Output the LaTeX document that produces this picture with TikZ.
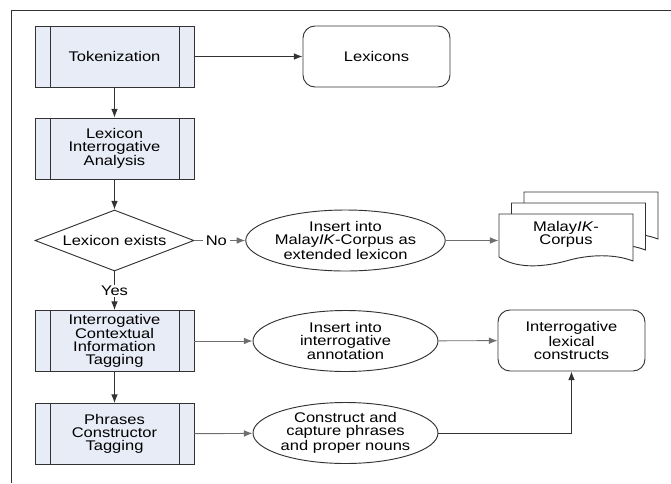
\documentclass[tikz,border=0pt]{standalone}
\usepackage{fontspec}
\setmainfont[FakeStretch=1.18]{Liberation Sans}
\usetikzlibrary{shapes.geometric,arrows.meta}
\definecolor{procfill}{RGB}{232,236,247}
\definecolor{edge}{RGB}{50,50,50}
\definecolor{lgray}{RGB}{110,110,110}
\begin{document}
\begin{tikzpicture}[x=0.75pt,y=-0.75pt,line width=0.7pt,
  every node/.style={font=\fontsize{10.5}{9.75}\selectfont,align=center,inner sep=0pt},
  proc/.style={draw=edge,fill=procfill,minimum width=119.25pt,minimum height=45.75pt,
    path picture={
      \draw[edge,line width=0.7pt] ([xshift=11.25pt]path picture bounding box.north west) -- ([xshift=11.25pt]path picture bounding box.south west);
      \draw[edge,line width=0.7pt] ([xshift=-11.25pt]path picture bounding box.north east) -- ([xshift=-11.25pt]path picture bounding box.south east);}},
  term/.style={draw=edge,rounded corners=9pt,minimum width=110.25pt,minimum height=45.75pt},
  act/.style={draw=edge,ellipse,minimum width=138.75pt,minimum height=45.75pt},
  dec/.style={draw=edge,diamond,aspect=2.6,minimum width=119.25pt,minimum height=45.75pt},
  arr/.style={-{Latex[length=6.5pt,width=5pt]},draw=edge},
  arrg/.style={arr,draw=lgray},
  lbl/.style={fill=white,inner xsep=2pt,inner ysep=1pt}]
\useasboundingbox (0,0) rectangle (671,483);
% frame
\draw[edge] (11,483) -- (11,10.5) -- (671,10.5);
% left column
\node[proc] (tok) at (114.5,56.5) {Tokenization};
\node[proc] (lia) at (114.5,148.5) {Lexicon\\Interrogative\\Analysis};
\node[dec] (exist) at (114.5,240.5) {Lexicon exists};
\node[proc] (icit) at (114.5,341) {Interrogative\\Contextual\\Information\\Tagging};
\node[proc] (pct) at (114.5,434) {Phrases\\Constructor\\Tagging};
% middle and right
\node[term] (lex) at (376.5,56.5) {Lexicons};
\node[act] (ins1) at (345.5,240.5) {Insert into\\Malay\textit{IK}-Corpus as\\extended lexicon};
\node[act] (ins2) at (345.5,341) {Insert into\\interrogative\\annotation};
\node[act] (ins3) at (345.5,433) {Construct and\\capture phrases\\and proper nouns};
\node[term] (ilc) at (571.5,340.5) {Interrogative\\lexical\\constructs};
% document stack
\foreach \s in {2,1,0} {
  \draw[edge,fill=white,shift={(12.5*\s,-11*\s)}] (499,257) -- (499,214) -- (633,214) -- (633,261)
    .. controls (615,254) and (590,254) .. (566,261) .. controls (540,268) and (515,268) .. (499,257);
}
\node[minimum width=100.5pt] (corp) at (566,234) {Malay\textit{IK}-\\Corpus};
% connectors
\draw[arr] (tok) -- (lex);
\draw[arr] (tok) -- (lia);
\draw[arr] (lia) -- (exist);
\draw[arrg] (exist) -- node[lbl,pos=0.43] {No} (ins1);
\draw[arrg] (ins1) -- (corp.west |- ins1.east);
\draw[arr] (exist) -- node[lbl] {Yes} (icit);
\draw[arrg] (icit) -- (ins2);
\draw[arrg] (ins2) -- (ilc);
\draw[arr] (icit) -- (pct);
\draw[arrg] (pct) -- (ins3);
\draw[arr] (ins3.east) -| (ilc.south);
\end{tikzpicture}
\end{document}
